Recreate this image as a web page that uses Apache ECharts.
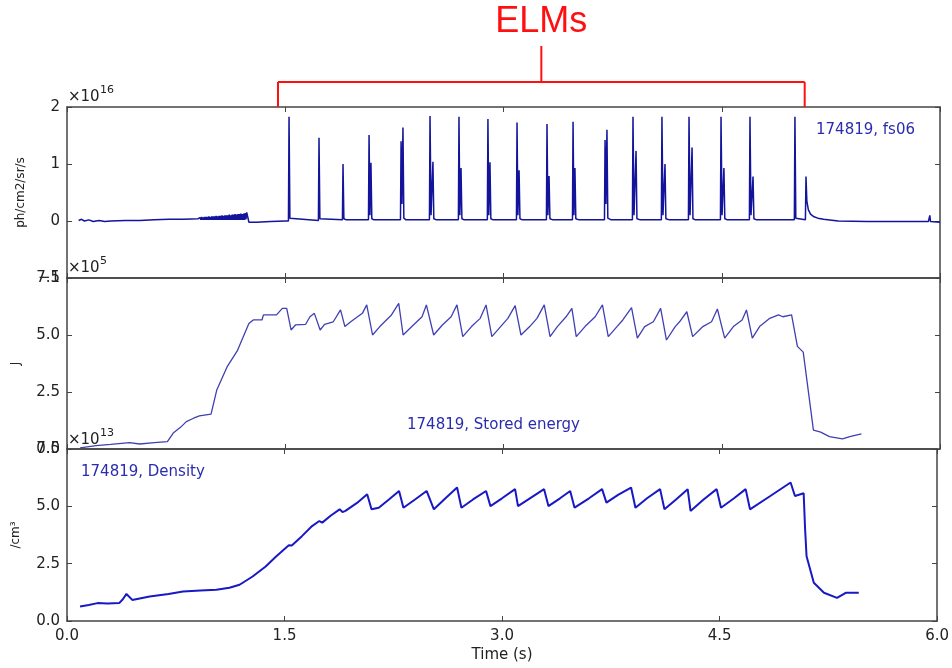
<!DOCTYPE html>
<html>
<head>
<meta charset="utf-8">
<script src="https://cdn.jsdelivr.net/npm/echarts@6/dist/echarts.min.js"></script>
<style>
  html, body { margin: 0; padding: 0; background: #ffffff; }
  #chart { width: 952px; height: 668px; }
</style>
</head>
<body>
<div id="chart"></div>
<script>
// Shot 174819: filterscope fs06 (x1e16 ph/cm2/sr/s), stored energy (x1e5 J), line density (x1e13 /cm3)

const xTicks = ['0.0', '1.5', '3.0', '4.5', '6.0'];
const elmSpan = [1.45, 5.07];   // time window bracketed as the ELMy phase

// fs06 D-alpha emission, [time s, value x1e16]
const fs06 = [
  [0.08,0.01],[0.10,0.03],[0.12,0.00],[0.15,0.02],[0.18,-0.01],[0.22,0.01],[0.26,-0.01],[0.30,0.00],
  [0.40,0.01],[0.50,0.01],[0.60,0.02],[0.70,0.03],[0.80,0.03],[0.90,0.04],
  [0.905,0.06],[0.910,0.02],[0.915,0.06],[0.920,0.02],[0.925,0.07],[0.930,0.02],[0.935,0.06],[0.940,0.02],
  [0.945,0.07],[0.950,0.02],[0.955,0.07],[0.960,0.02],[0.965,0.07],[0.970,0.02],[0.975,0.08],[0.980,0.02],
  [0.985,0.07],[0.990,0.02],[0.995,0.08],[1.000,0.02],[1.005,0.08],[1.010,0.02],[1.015,0.08],[1.020,0.02],
  [1.025,0.09],[1.030,0.02],[1.035,0.08],[1.040,0.02],[1.045,0.09],[1.050,0.02],[1.055,0.09],[1.060,0.02],
  [1.065,0.10],[1.070,0.02],[1.075,0.09],[1.080,0.02],[1.085,0.10],[1.090,0.02],[1.095,0.10],[1.100,0.02],
  [1.105,0.10],[1.110,0.02],[1.115,0.11],[1.120,0.02],[1.125,0.10],[1.130,0.02],[1.135,0.11],[1.140,0.02],
  [1.145,0.11],[1.150,0.02],[1.155,0.12],[1.160,0.02],[1.165,0.11],[1.170,0.02],[1.175,0.12],[1.180,0.02],
  [1.185,0.12],[1.190,0.02],[1.195,0.13],[1.200,0.02],[1.205,0.12],[1.210,0.02],[1.215,0.13],[1.220,0.02],
  [1.225,0.14],[1.230,0.03],[1.235,0.15],[1.240,0.18],[1.245,0.04],[1.250,-0.02],
  [1.30,-0.02],[1.40,-0.01],[1.50,0.00],
  [1.522,0.00],[1.526,1.83],[1.532,0.05],[1.545,0.02],
  [1.728,0.01],[1.732,1.46],[1.738,0.04],[1.75,0.02],
  [1.893,0.02],[1.897,1.00],[1.903,0.04],[1.92,0.02],
  [2.072,0.02],[2.076,1.51],[2.082,0.10],[2.089,1.02],[2.095,0.04],[2.11,0.02],
  [2.292,0.02],[2.296,1.40],[2.302,0.30],[2.309,1.64],[2.315,0.05],[2.33,0.02],
  [2.491,0.02],[2.495,1.84],[2.502,0.10],[2.515,1.04],[2.521,0.04],[2.54,0.02],
  [2.690,0.02],[2.694,1.83],[2.700,0.10],[2.708,0.93],[2.714,0.04],[2.73,0.02],
  [2.889,0.02],[2.893,1.79],[2.899,0.10],[2.907,1.03],[2.913,0.04],[2.93,0.02],
  [3.089,0.02],[3.093,1.73],[3.099,0.10],[3.107,0.89],[3.113,0.04],[3.13,0.02],
  [3.295,0.02],[3.299,1.70],[3.305,0.10],[3.313,0.79],[3.319,0.04],[3.34,0.02],
  [3.474,0.02],[3.478,1.74],[3.484,0.10],[3.491,0.93],[3.497,0.04],[3.52,0.02],
  [3.694,0.02],[3.698,1.42],[3.704,0.30],[3.711,1.60],[3.717,0.05],[3.74,0.02],
  [3.886,0.02],[3.890,1.83],[3.897,0.10],[3.911,1.23],[3.917,0.04],[3.94,0.02],
  [4.085,0.02],[4.089,1.83],[4.096,0.10],[4.110,1.00],[4.116,0.04],[4.14,0.02],
  [4.271,0.02],[4.275,1.83],[4.282,0.10],[4.296,1.29],[4.302,0.04],[4.32,0.02],
  [4.491,0.02],[4.495,1.83],[4.502,0.10],[4.515,0.93],[4.521,0.04],[4.54,0.02],
  [4.690,0.02],[4.694,1.83],[4.701,0.10],[4.715,0.78],[4.721,0.04],[4.74,0.02],
  [4.999,0.02],[5.003,1.83],[5.009,0.05],[5.02,0.02],
  [5.075,0.02],[5.079,0.78],[5.085,0.35],[5.095,0.20],[5.11,0.12],[5.13,0.08],[5.16,0.05],
  [5.20,0.03],[5.30,0.00],[5.50,-0.01],[5.70,-0.01],[5.92,-0.01],[5.93,0.10],[5.935,-0.01],[6.00,-0.02]
];

// Stored energy, [time s, value x1e5 J]
const storedEnergy = [
  [0.09,0.05],[0.20,0.15],[0.30,0.20],[0.43,0.28],[0.50,0.22],[0.60,0.28],[0.69,0.32],[0.73,0.70],
  [0.78,0.95],[0.82,1.20],[0.87,1.35],[0.91,1.45],[0.99,1.53],[1.03,2.60],[1.10,3.60],[1.17,4.30],
  [1.25,5.50],[1.28,5.66],[1.34,5.66],[1.35,5.88],[1.44,5.88],[1.48,6.17],[1.51,6.17],[1.54,5.22],
  [1.57,5.44],[1.64,5.47],[1.67,5.80],[1.70,5.95],[1.74,5.22],[1.77,5.47],[1.83,5.58],[1.88,6.10],
  [1.91,5.37],[1.95,5.58],[2.03,5.95],[2.06,6.32],[2.10,5.00],[2.15,5.37],[2.23,5.88],[2.28,6.39],
  [2.31,5.00],[2.37,5.37],[2.44,5.80],[2.47,6.32],[2.52,5.00],[2.58,5.44],[2.64,5.80],[2.68,6.32],
  [2.72,4.93],[2.78,5.37],[2.84,5.73],[2.88,6.32],[2.92,4.93],[2.98,5.37],[3.03,5.73],[3.08,6.29],
  [3.12,5.00],[3.18,5.37],[3.23,5.73],[3.28,6.32],[3.32,4.93],[3.37,5.37],[3.43,5.80],[3.47,6.17],
  [3.50,4.93],[3.56,5.37],[3.63,5.80],[3.68,6.32],[3.72,4.93],[3.78,5.37],[3.82,5.66],[3.88,6.20],
  [3.92,4.86],[3.97,5.37],[4.03,5.58],[4.08,6.17],[4.12,4.78],[4.18,5.37],[4.21,5.58],[4.26,6.02],
  [4.30,4.93],[4.37,5.37],[4.43,5.58],[4.47,6.14],[4.52,4.86],[4.58,5.37],[4.64,5.66],[4.67,6.10],
  [4.71,4.86],[4.76,5.37],[4.83,5.73],[4.89,5.88],[4.92,5.80],[4.98,5.88],[5.02,4.50],[5.06,4.25],
  [5.13,0.83],[5.18,0.74],[5.24,0.54],[5.33,0.44],[5.38,0.54],[5.46,0.66]
];

// Line-averaged density, [time s, value x1e13 /cm3]
const density = [
  [0.09,0.63],[0.15,0.70],[0.21,0.78],[0.28,0.76],[0.36,0.78],[0.385,0.95],[0.41,1.18],[0.45,0.92],
  [0.57,1.07],[0.70,1.18],[0.80,1.29],[0.92,1.33],[1.03,1.36],[1.12,1.45],[1.19,1.58],[1.28,1.94],
  [1.37,2.38],[1.44,2.80],[1.51,3.19],[1.53,3.30],[1.55,3.29],[1.62,3.70],[1.69,4.14],[1.74,4.36],
  [1.76,4.29],[1.82,4.60],[1.88,4.87],[1.90,4.75],[1.92,4.80],[2.00,5.15],[2.07,5.53],[2.10,4.87],
  [2.15,4.94],[2.22,5.30],[2.29,5.67],[2.32,4.94],[2.40,5.30],[2.48,5.67],[2.53,4.87],[2.61,5.35],
  [2.69,5.82],[2.72,4.94],[2.80,5.30],[2.89,5.67],[2.92,5.01],[3.00,5.35],[3.09,5.75],[3.11,5.01],
  [3.20,5.38],[3.29,5.75],[3.32,5.01],[3.40,5.35],[3.47,5.67],[3.50,4.94],[3.60,5.35],[3.69,5.75],
  [3.70,5.82],[3.72,5.16],[3.80,5.50],[3.89,5.82],[3.92,4.94],[4.00,5.35],[4.09,5.75],[4.12,4.87],
  [4.20,5.30],[4.28,5.75],[4.30,4.80],[4.39,5.30],[4.48,5.75],[4.51,4.94],[4.60,5.35],[4.68,5.75],
  [4.71,4.87],[4.85,5.45],[4.99,6.04],[5.02,5.45],[5.08,5.57],[5.09,4.00],[5.10,2.82],[5.15,1.67],
  [5.22,1.23],[5.31,1.01],[5.37,1.23],[5.46,1.23]
];

const FONT = 'DejaVu Sans';
const INK = '#222';
const FRAME = '#444';

const chart = echarts.init(document.getElementById('chart'), null, { renderer: 'canvas' });

const grids = [
  { left: 67, top: 107, width: 873, height: 171 },
  { left: 67, top: 278, width: 873, height: 171 },
  { left: 67, top: 449, width: 873, height: 172 }
];

function xAxisFor(gridIndex, position, withLabels) {
  return {
    type: 'value', gridIndex, position, min: 0, max: 6, interval: 1.5,
    axisLine: { show: true, onZero: false, lineStyle: { color: FRAME, width: 1.5 } },
    axisTick: { show: true, inside: true, length: 5, lineStyle: { color: FRAME, width: 1 } },
    axisLabel: {
      show: withLabels, color: INK, fontFamily: FONT, fontSize: 15, margin: 8,
      formatter: v => xTicks[Math.round(v / 1.5)]
    },
    splitLine: { show: false },
    name: withLabels ? 'Time (s)' : '',
    nameLocation: 'middle', nameGap: 27,
    nameTextStyle: { color: INK, fontFamily: FONT, fontSize: 15 }
  };
}

function yAxisFor(gridIndex, position, range, step, digits, name, nameGap) {
  const labels = position === 'left';
  return {
    type: 'value', gridIndex, position, min: range[0], max: range[1], interval: step,
    axisLine: { show: true, onZero: false, lineStyle: { color: FRAME, width: 1.5 } },
    axisTick: { show: true, inside: true, length: 5, lineStyle: { color: FRAME, width: 1 } },
    axisLabel: {
      show: labels, color: INK, fontFamily: FONT, fontSize: 15, margin: 7,
      showMinLabel: true, showMaxLabel: true,
      formatter: v => (v < 0 ? '\u2212' : '') + Math.abs(v).toFixed(digits)
    },
    splitLine: { show: false },
    name: labels ? name : '',
    nameLocation: 'middle', nameRotate: 90, nameGap,
    nameTextStyle: { color: INK, fontFamily: FONT, fontSize: 12 }
  };
}

const option = {
  animation: false,
  backgroundColor: '#ffffff',
  grid: grids.map(g => Object.assign({ show: true, backgroundColor: '#ffffff', borderWidth: 0 }, g)),
  xAxis: [
    xAxisFor(0, 'bottom', false), xAxisFor(1, 'bottom', false), xAxisFor(2, 'bottom', true),
    xAxisFor(0, 'top', false), xAxisFor(1, 'top', false), xAxisFor(2, 'top', false)
  ],
  yAxis: [
    yAxisFor(0, 'left', [-1, 2], 1, 0, 'ph/cm2/sr/s', 38),
    yAxisFor(1, 'left', [0, 7.5], 2.5, 1, 'J', 45),
    yAxisFor(2, 'left', [0, 7.5], 2.5, 1, '/cm\u00b3', 45),
    yAxisFor(0, 'right', [-1, 2], 1, 0, '', 0),
    yAxisFor(1, 'right', [0, 7.5], 2.5, 1, '', 0),
    yAxisFor(2, 'right', [0, 7.5], 2.5, 1, '', 0)
  ],
  series: [
    {
      name: '174819, fs06', type: 'line', xAxisIndex: 0, yAxisIndex: 0, data: fs06,
      showSymbol: false, sampling: null, clip: true,
      lineStyle: { color: '#13139c', width: 1.5 }
    },
    {
      name: '174819, Stored energy', type: 'line', xAxisIndex: 1, yAxisIndex: 1, data: storedEnergy,
      showSymbol: false, clip: true,
      lineStyle: { color: '#4040b4', width: 1.3 }
    },
    {
      name: '174819, Density', type: 'line', xAxisIndex: 2, yAxisIndex: 2, data: density,
      showSymbol: false, clip: true,
      lineStyle: { color: '#1818c4', width: 2 }
    }
  ]
};

chart.setOption(option);

// Panel captions, offset exponents and the ELM bracket
const txt = (x, y, text, size, color, extra) => ({
  type: 'text', x, y, z: 10,
  style: Object.assign({ text, fontFamily: FONT, fontSize: size, fill: color, textVerticalAlign: 'middle' }, extra || {})
});

const xL = chart.convertToPixel({ xAxisIndex: 0 }, elmSpan[0]);
const xR = chart.convertToPixel({ xAxisIndex: 0 }, elmSpan[1]);
const xC = (xL + xR) / 2;
const barY = 82, topY = grids[0].top;
const red = '#ff1010';

chart.setOption({
  graphic: [
    txt(816, 130, '174819, fs06', 15, '#2b2bb0'),
    txt(407, 425, '174819, Stored energy', 15, '#2b2bb0'),
    txt(81, 472, '174819, Density', 15, '#2b2bb0'),

    txt(68, 97, '\u00d710', 15, INK), txt(100, 90, '16', 11, INK),
    txt(68, 268, '\u00d710', 15, INK), txt(100, 261, '5', 11, INK),
    txt(68, 440, '\u00d710', 15, INK), txt(100, 433, '13', 11, INK),

    { type: 'line', z: 10, shape: { x1: xL, y1: barY, x2: xR, y2: barY }, style: { stroke: red, lineWidth: 2 } },
    { type: 'line', z: 10, shape: { x1: xL, y1: barY, x2: xL, y2: topY }, style: { stroke: red, lineWidth: 2 } },
    { type: 'line', z: 10, shape: { x1: xR, y1: barY, x2: xR, y2: topY }, style: { stroke: red, lineWidth: 2 } },
    { type: 'line', z: 10, shape: { x1: xC, y1: 46, x2: xC, y2: barY }, style: { stroke: red, lineWidth: 2 } },
    {
      type: 'text', x: xC, y: 22, z: 10,
      style: { text: 'ELMs', fontFamily: 'Liberation Sans', fontSize: 36, fill: red, textAlign: 'center', textVerticalAlign: 'middle' }
    }
  ]
});
</script>
</body>
</html>
